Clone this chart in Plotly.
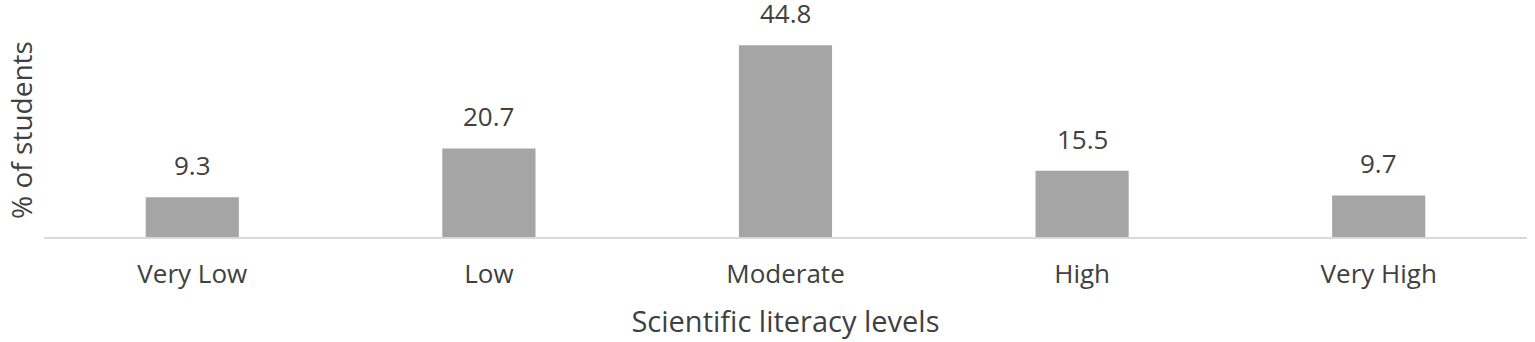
import plotly.graph_objects as go

categories = ["Very Low", "Low", "Moderate", "High", "Very High"]
values = [9.3, 20.7, 44.8, 15.5, 9.7]
labels = ["9.3", "20.7", "44.8", "15.5", "9.7"]

FONT = "Open Sans"
TXT = "#404040"

fig = go.Figure()
fig.add_trace(go.Bar(x=categories, y=values, marker=dict(color="#a5a5a5", line=dict(width=0)),
                     hoverinfo="x+y"))

for c, v, t in zip(categories, values, labels):
    fig.add_annotation(x=c, y=v, text=t, showarrow=False, yanchor="middle", yshift=32,
                       font=dict(family=FONT, size=26, color=TXT))

fig.update_layout(
    width=1535, height=342,
    margin=dict(l=44, r=8, t=23, b=105),
    paper_bgcolor="white", plot_bgcolor="white",
    bargap=0.686,
    showlegend=False,
    font=dict(family=FONT, color=TXT),
)
fig.update_xaxes(
    automargin=False,
    showline=True, linecolor="#d9d9d9", linewidth=2,
    showgrid=False, zeroline=False,
    ticks="", ticklabelstandoff=13,
    tickfont=dict(family=FONT, size=26, color=TXT),
    title=dict(text="Scientific literacy levels", font=dict(family=FONT, size=29, color=TXT), standoff=21),
)
fig.update_yaxes(
    automargin=False,
    range=[0, 50], showline=False, showgrid=False, zeroline=False,
    showticklabels=False, ticks="",
    title=dict(text="% of students", font=dict(family=FONT, size=28, color=TXT), standoff=2),
)

fig.write_html("out.html", config={"displayModeBar": False},
               post_script="document.body.style.margin='0px';")
